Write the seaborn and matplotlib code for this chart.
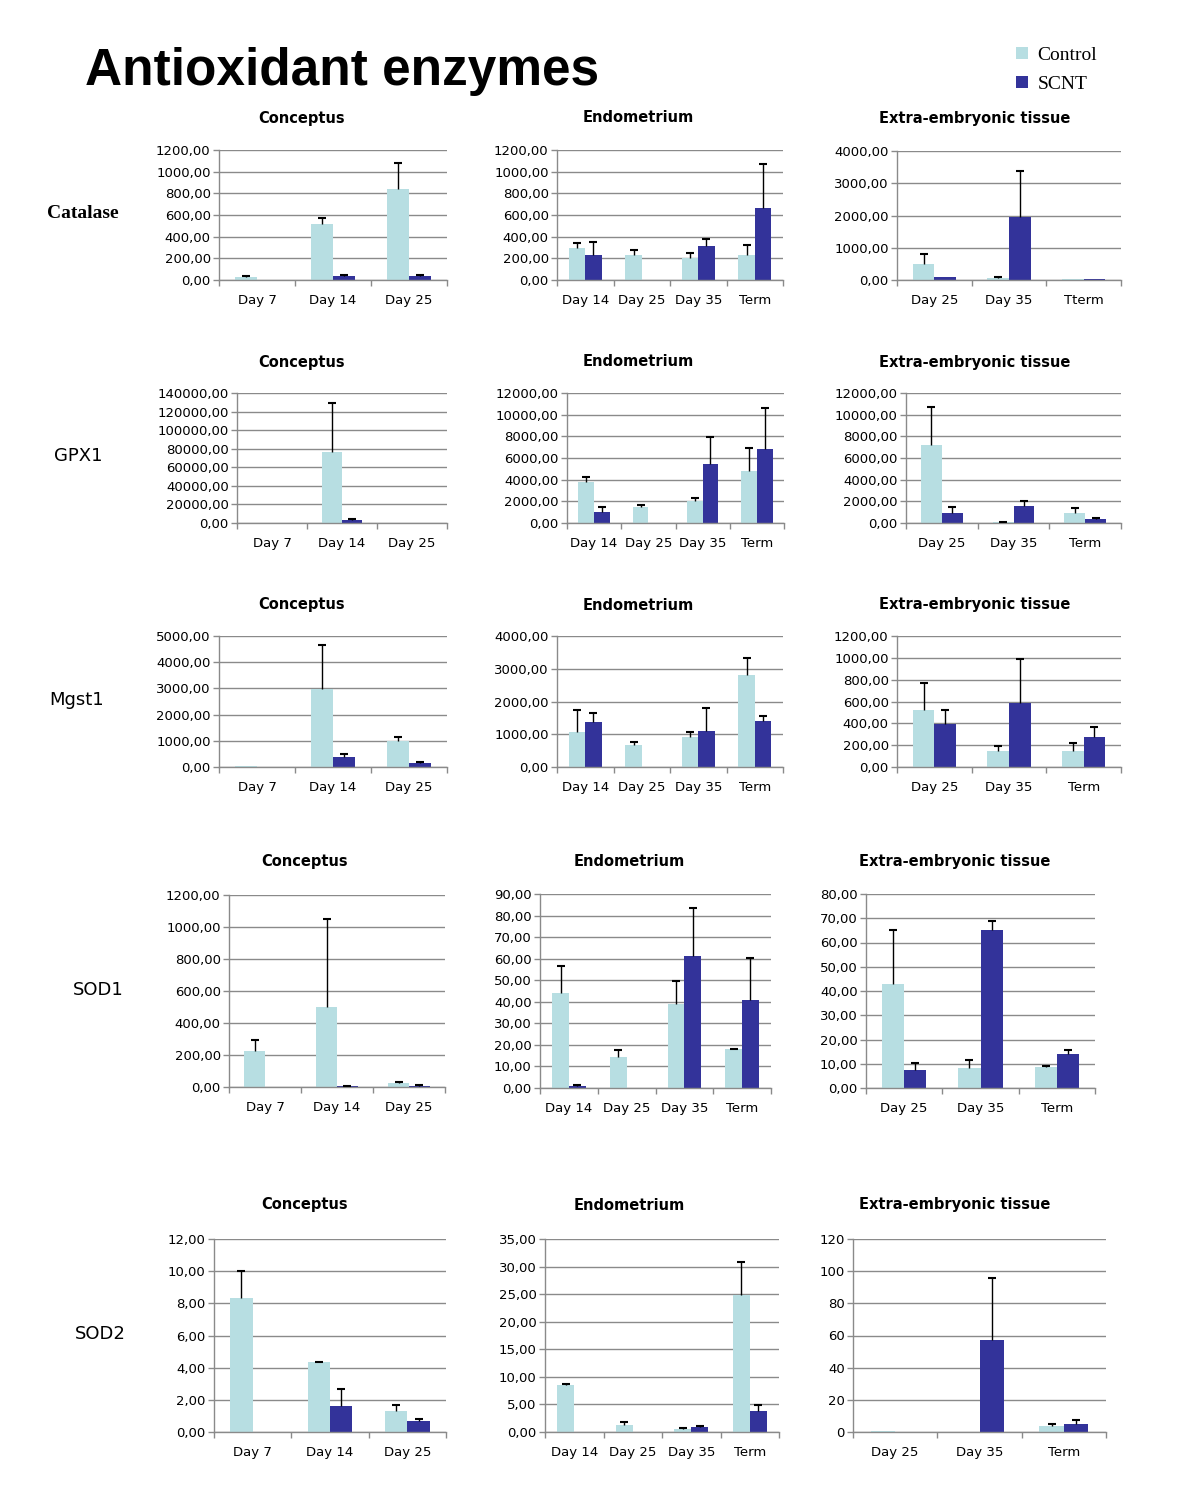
import numpy as np
import pandas as pd
import matplotlib
matplotlib.use("Agg")
import matplotlib.pyplot as plt
from matplotlib.ticker import FuncFormatter
import seaborn as sns

W, H = 1182, 1489

groups = ["Control", "SCNT"]
palette = {"Control": "#B7DEE2", "SCNT": "#33339A"}
tissues = ["Conceptus", "Endometrium", "Extra-embryonic tissue"]
enzymes = ["Catalase", "GPX1", "Mgst1", "SOD1", "SOD2"]

conceptus_days = ["Day 7", "Day 14", "Day 25"]
endometrium_days = ["Day 14", "Day 25", "Day 35", "Term"]
extra_days = ["Day 25", "Day 35", "Term"]
extra_days_catalase = ["Day 25", "Day 35", "Tterm"]

# each list holds [conceptus, endometrium, extra-embryonic tissue]
catalase_ctrl = [[25, 519, 840], [291, 233, 206, 233], [504, 62, 30]]
catalase_ctrl_sd = [[15, 55, 238], [52, 43, 45, 88], [300, 40, 0]]
catalase_scnt = [[0, 40, 40], [233, 0, 312, 665], [80, 1967, 40]]
catalase_scnt_sd = [[0, 8, 10], [120, 0, 68, 407], [0, 1423, 0]]

gpx1_ctrl = [[0, 76500, 0], [3810, 1505, 2060, 4830], [7200, 80, 950]]
gpx1_ctrl_sd = [[0, 52800, 0], [410, 185, 220, 2120], [3540, 40, 435]]
gpx1_scnt = [[0, 3200, 0], [1045, 0, 5420, 6800], [950, 1600, 370]]
gpx1_scnt_sd = [[0, 1400, 0], [460, 0, 2490, 3810], [555, 460, 120]]

mgst1_ctrl = [[35, 2980, 990], [1070, 670, 915, 2810], [522, 147, 147]]
mgst1_ctrl_sd = [[0, 1680, 155], [680, 95, 155, 520], [247, 45, 73]]
mgst1_scnt = [[0, 400, 160], [1375, 0, 1100, 1405], [394, 586, 275]]
mgst1_scnt_sd = [[0, 80, 15], [280, 0, 700, 150], [128, 403, 91]]

sod1_ctrl = [[228, 499, 25], [44.3, 14.4, 39.0, 18.0], [42.9, 8.4, 8.8]]
sod1_ctrl_sd = [[63, 551, 6], [12.4, 3.2, 10.8, 0.2], [22.1, 3.3, 0.2]]
sod1_scnt = [[0, 5, 8], [1.1, 0, 61.3, 40.7], [7.3, 65.3, 14.1]]
sod1_scnt_sd = [[0, 2, 7], [0.2, 0, 22.4, 19.8], [3.2, 3.6, 1.5]]

sod2_ctrl = [[8.31, 4.34, 1.29], [8.54, 1.27, 0.55, 24.9], [0.8, 0, 3.5]]
sod2_ctrl_sd = [[1.69, 0.04, 0.39], [0.08, 0.49, 0.18, 6.0], [0, 0, 1.5]]
sod2_scnt = [[0, 1.62, 0.69], [0, 0, 0.96, 3.76], [0, 56.9, 5.0]]
sod2_scnt_sd = [[0, 1.04, 0.12], [0, 0, 0.06, 1.14], [0, 39.0, 2.5]]

# axis scale per panel: (max, step)
catalase_scale = [(1200, 200), (1200, 200), (4000, 1000)]
gpx1_scale = [(140000, 20000), (12000, 2000), (12000, 2000)]
mgst1_scale = [(5000, 1000), (4000, 1000), (1200, 200)]
sod1_scale = [(1200, 200), (90, 10), (80, 10)]
sod2_scale = [(12, 2), (35, 5), (120, 20)]

rows = [
    (catalase_ctrl, catalase_ctrl_sd, catalase_scnt, catalase_scnt_sd, catalase_scale,
     [conceptus_days, endometrium_days, extra_days_catalase]),
    (gpx1_ctrl, gpx1_ctrl_sd, gpx1_scnt, gpx1_scnt_sd, gpx1_scale,
     [conceptus_days, endometrium_days, extra_days]),
    (mgst1_ctrl, mgst1_ctrl_sd, mgst1_scnt, mgst1_scnt_sd, mgst1_scale,
     [conceptus_days, endometrium_days, extra_days]),
    (sod1_ctrl, sod1_ctrl_sd, sod1_scnt, sod1_scnt_sd, sod1_scale,
     [conceptus_days, endometrium_days, extra_days]),
    (sod2_ctrl, sod2_ctrl_sd, sod2_scnt, sod2_scnt_sd, sod2_scale,
     [conceptus_days, endometrium_days, extra_days]),
]

# panel boxes in pixels: left, top, right, bottom
boxes = [
    [(219, 150, 447, 280), (557, 150, 783, 280), (897, 151, 1121, 280)],
    [(237, 393, 447, 523), (567, 393, 784, 523), (906, 393, 1121, 523)],
    [(219, 636, 447, 767), (557, 636, 783, 767), (897, 636, 1121, 767)],
    [(229, 895, 445, 1087), (540, 894, 771, 1088), (866, 894, 1095, 1088)],
    [(214, 1239, 446, 1432), (545, 1239, 779, 1432), (853, 1239, 1106, 1432)],
]
title_pos = [
    [(302, 118), (638, 118), (975, 118)],
    [(302, 362), (638, 362), (975, 362)],
    [(302, 605), (638, 605), (975, 605)],
    [(305, 861), (629, 861), (955, 861)],
    [(305, 1205), (629, 1205), (955, 1205)],
]
label_pos = [(83, 213), (78, 456), (77, 700), (98, 990), (100, 1334)]

sns.set_style("white")
plt.rcParams["font.family"] = ["DejaVu Sans"]
plt.rcParams["text.color"] = "black"
plt.rcParams["xtick.labelcolor"] = "black"
plt.rcParams["ytick.labelcolor"] = "black"
GRID = "#8a8a8a"

comma2 = FuncFormatter(lambda v, p: f"{v:.2f}".replace(".", ","))
plain = FuncFormatter(lambda v, p: f"{v:.0f}")


def draw_panel(ax, days, ctrl, ctrl_sd, scnt, scnt_sd, ymax, ystep, fmt, legend=False):
    df = pd.DataFrame({
        "day": days * 2,
        "group": ["Control"] * len(days) + ["SCNT"] * len(days),
        "value": list(ctrl) + list(scnt),
    })
    sns.barplot(data=df, x="day", y="value", hue="group", order=days, hue_order=groups,
                palette=palette, width=0.58, errorbar=None, saturation=1, linewidth=0,
                ax=ax, legend=legend)
    bars = list(ax.containers)
    for cont, sd in zip(bars, [ctrl_sd, scnt_sd]):
        for bar, e in zip(cont.patches, sd):
            if e > 0:
                x = bar.get_x() + bar.get_width() / 2
                _, caps, _ = ax.errorbar(x, bar.get_height(), yerr=[[0], [e]], color="black",
                                         lw=1, capsize=3, capthick=1.5, zorder=4)
                # only the upper cap, like the spreadsheet chart
                caps[0].set_visible(False)
    n = len(days)
    ax.set_xlim(-0.5, n - 0.5)
    ax.set_ylim(0, ymax)
    ax.set_yticks(np.arange(0, ymax + ystep / 2, ystep))
    ax.yaxis.set_major_formatter(fmt)
    ax.set_xticks(np.arange(-0.5, n, 1), minor=True)
    ax.grid(axis="y", color=GRID, lw=1)
    ax.grid(axis="x", visible=False)
    ax.set_axisbelow(True)
    ax.set_xlabel("")
    ax.set_ylabel("")
    for s in ["top", "right"]:
        ax.spines[s].set_visible(False)
    for s in ["left", "bottom"]:
        ax.spines[s].set_color(GRID)
        ax.spines[s].set_linewidth(1)
    ax.tick_params(axis="x", which="major", length=0, pad=10, labelsize=9.5, labelcolor="black")
    ax.tick_params(axis="x", which="minor", length=4, color=GRID, width=1, direction="out", bottom=True)
    ax.tick_params(axis="y", length=4, color=GRID, width=1, direction="out", left=True,
                   labelsize=9.5, pad=2, labelcolor="black")


fig = plt.figure(figsize=(W / 100, H / 100), dpi=100)

handles, labels = None, None
for r, (ctrl, ctrl_sd, scnt, scnt_sd, scale, day_sets) in enumerate(rows):
    for c in range(3):
        l, t, rr, b = boxes[r][c]
        ax = fig.add_axes([l / W, 1 - b / H, (rr - l) / W, (b - t) / H])
        fmt = plain if (r == 4 and c == 2) else comma2
        first = (r == 0 and c == 0)
        draw_panel(ax, day_sets[c], ctrl[c], ctrl_sd[c], scnt[c], scnt_sd[c],
                   scale[c][0], scale[c][1], fmt, legend=first)
        if first:
            handles, labels = ax.get_legend_handles_labels()
            ax.get_legend().remove()
        tx, ty = title_pos[r][c]
        fig.text(tx / W, 1 - ty / H, tissues[c], ha="center", va="center",
                 fontsize=10.5, fontweight="bold", color="black")
    lx, ly = label_pos[r]
    if r == 0:
        fig.text(lx / W, 1 - ly / H, enzymes[r], ha="center", va="center", color="black",
                 fontsize=14, fontweight="bold", family="Liberation Serif")
    else:
        fig.text(lx / W, 1 - ly / H, enzymes[r], ha="center", va="center", fontsize=13,
                 color="black")

fig.text(85 / W, 1 - 72 / H, "Antioxidant enzymes", ha="left", va="center",
         fontsize=37, fontweight="bold", family="Liberation Sans", color="black")

fig.legend(handles, labels, loc="upper left", bbox_to_anchor=(1016 / W, 1 - 47 / H),
           frameon=False, borderpad=0, borderaxespad=0, handlelength=0.6, handleheight=0.6,
           handletextpad=0.5, labelspacing=0.6, labelcolor="black",
           prop={"family": "Liberation Serif", "size": 14})

fig.savefig("out.png", dpi=100)
